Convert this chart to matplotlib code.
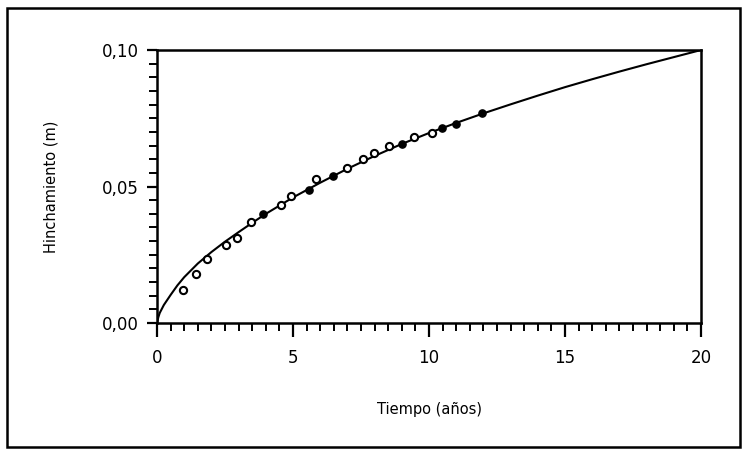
import matplotlib

matplotlib.use("Agg")
import matplotlib.pyplot as plt
from matplotlib.patches import Rectangle
from matplotlib.ticker import FixedLocator, MultipleLocator

plt.rcParams["font.family"] = ["DejaVu Sans"]

# fitted curve
curve_t = [0, 0.05, 0.1, 0.25, 0.5, 0.75, 1, 1.5, 2, 2.5, 3, 3.5, 4, 5, 6,
           7, 8, 9, 10, 11, 12, 13, 14, 15, 16, 17, 18, 19, 20]
curve_v = [0.0, 0.0022, 0.0037, 0.0066, 0.0103, 0.0138, 0.0168, 0.0218,
           0.0260, 0.0298, 0.0333, 0.0367, 0.0400, 0.0460, 0.0514, 0.0565,
           0.0612, 0.0656, 0.0696, 0.0733, 0.0768, 0.0801, 0.0833, 0.0864,
           0.0893, 0.0921, 0.0948, 0.0974, 0.1000]

# measured points (open circles)
open_t = [0.95, 1.44, 1.85, 2.53, 2.94, 3.46, 4.56, 4.94, 5.86, 6.99, 7.56,
          7.99, 8.52, 9.44, 10.12]
open_v = [0.0120, 0.0181, 0.0235, 0.0286, 0.0313, 0.0369, 0.0433, 0.0467,
          0.0528, 0.0568, 0.0601, 0.0622, 0.0647, 0.0682, 0.0696]

# measured points (filled circles)
filled_t = [3.89, 5.58, 6.48, 8.99, 10.49, 10.98, 11.96]
filled_v = [0.0398, 0.0488, 0.0540, 0.0656, 0.0714, 0.0729, 0.0768]

x_ticks = [0, 5, 10, 15, 20]
y_ticks = [0.0, 0.05, 0.10]
y_tick_labels = ["0,00", "0,05", "0,10"]

fig = plt.figure(figsize=(7.46, 4.49), dpi=100)
fig.patches.append(
    Rectangle((0.009, 0.004), 0.983, 0.978, transform=fig.transFigure,
              fill=False, edgecolor="black", linewidth=1.8)
)

ax = fig.add_axes([0.2105, 0.2806, 0.7292, 0.608])
ax.plot(curve_t, curve_v, color="black", linewidth=1.5, zorder=2)
ax.plot(open_t, open_v, linestyle="none", marker="o", markersize=5.2,
        markerfacecolor="white", markeredgecolor="black",
        markeredgewidth=1.5, zorder=3)
ax.plot(filled_t, filled_v, linestyle="none", marker="o", markersize=5.2,
        color="black", zorder=3)

ax.set_xlim(0, 20)
ax.set_ylim(0, 0.10)
ax.set_xticks(x_ticks)
ax.xaxis.set_minor_locator(MultipleLocator(0.5))
ax.yaxis.set_major_locator(FixedLocator(y_ticks))
ax.set_yticklabels(y_tick_labels)
ax.yaxis.set_minor_locator(MultipleLocator(0.005))

ax.tick_params(axis="x", which="major", direction="out", length=10,
               width=1.6, pad=9, labelsize=12)
ax.tick_params(axis="x", which="minor", direction="out", length=6, width=1.4)
ax.tick_params(axis="y", which="major", direction="out", length=7,
               width=1.6, pad=6, labelsize=12)
ax.tick_params(axis="y", which="minor", direction="out", length=6, width=1.4)

for spine in ax.spines.values():
    spine.set_linewidth(1.8)

ax.set_xlabel("Tiempo (años)", fontsize=10.5, labelpad=25)
ax.set_ylabel("Hinchamiento (m)", fontsize=10.5, labelpad=31)

fig.savefig("out.png", dpi=100)
